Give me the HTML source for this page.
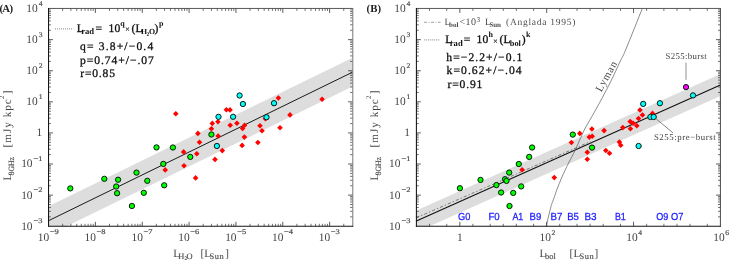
<!DOCTYPE html>
<html><head><meta charset="utf-8"><title>plot</title>
<style>html,body{margin:0;padding:0;background:#fff;overflow:hidden}svg{display:block}text{text-rendering:geometricPrecision}</style></head><body>
<svg width="729" height="261" viewBox="0 0 729 261">
<rect width="729" height="261" fill="#fff"/>
<g opacity="0.999">
<defs><clipPath id="ca"><rect x="48.55" y="8.55" width="303.95" height="217.65"/></clipPath>
<clipPath id="cb"><rect x="416.4" y="8.55" width="304" height="217.65"/></clipPath></defs>
<g clip-path="url(#ca)">
<polygon points="48.55,206.3 352.5,57.8 352.5,86.6 48.55,235.1" fill="#dddddd"/>
<line x1="48.55" y1="220.7" x2="352.5" y2="72.2" stroke="#1a1a1a" stroke-width="1"/>
</g>
<path d="M48.55 195.11L52.95 195.11M352.5 195.11L348.1 195.11M48.55 164.01L52.95 164.01M352.5 164.01L348.1 164.01M48.55 132.92L52.95 132.92M352.5 132.92L348.1 132.92M48.55 101.83L52.95 101.83M352.5 101.83L348.1 101.83M48.55 70.74L52.95 70.74M352.5 70.74L348.1 70.74M48.55 39.64L52.95 39.64M352.5 39.64L348.1 39.64M95.4 226.2L95.4 221.8M95.4 8.55L95.4 12.95M142.25 226.2L142.25 221.8M142.25 8.55L142.25 12.95M189.1 226.2L189.1 221.8M189.1 8.55L189.1 12.95M235.95 226.2L235.95 221.8M235.95 8.55L235.95 12.95M282.8 226.2L282.8 221.8M282.8 8.55L282.8 12.95M329.65 226.2L329.65 221.8M329.65 8.55L329.65 12.95" stroke="#333" stroke-width="0.8" fill="none"/>
<path d="M48.55 216.84L50.95 216.84M352.5 216.84L350.1 216.84M48.55 211.36L50.95 211.36M352.5 211.36L350.1 211.36M48.55 207.48L50.95 207.48M352.5 207.48L350.1 207.48M48.55 204.47L50.95 204.47M352.5 204.47L350.1 204.47M48.55 202.01L50.95 202.01M352.5 202.01L350.1 202.01M48.55 199.92L50.95 199.92M352.5 199.92L350.1 199.92M48.55 198.12L50.95 198.12M352.5 198.12L350.1 198.12M48.55 196.53L50.95 196.53M352.5 196.53L350.1 196.53M48.55 185.75L50.95 185.75M352.5 185.75L350.1 185.75M48.55 180.27L50.95 180.27M352.5 180.27L350.1 180.27M48.55 176.39L50.95 176.39M352.5 176.39L350.1 176.39M48.55 173.37L50.95 173.37M352.5 173.37L350.1 173.37M48.55 170.91L50.95 170.91M352.5 170.91L350.1 170.91M48.55 168.83L50.95 168.83M352.5 168.83L350.1 168.83M48.55 167.03L50.95 167.03M352.5 167.03L350.1 167.03M48.55 165.44L50.95 165.44M352.5 165.44L350.1 165.44M48.55 154.65L50.95 154.65M352.5 154.65L350.1 154.65M48.55 149.18L50.95 149.18M352.5 149.18L350.1 149.18M48.55 145.29L50.95 145.29M352.5 145.29L350.1 145.29M48.55 142.28L50.95 142.28M352.5 142.28L350.1 142.28M48.55 139.82L50.95 139.82M352.5 139.82L350.1 139.82M48.55 137.74L50.95 137.74M352.5 137.74L350.1 137.74M48.55 135.93L50.95 135.93M352.5 135.93L350.1 135.93M48.55 134.34L50.95 134.34M352.5 134.34L350.1 134.34M48.55 123.56L50.95 123.56M352.5 123.56L350.1 123.56M48.55 118.09L50.95 118.09M352.5 118.09L350.1 118.09M48.55 114.2L50.95 114.2M352.5 114.2L350.1 114.2M48.55 111.19L50.95 111.19M352.5 111.19L350.1 111.19M48.55 108.73L50.95 108.73M352.5 108.73L350.1 108.73M48.55 106.64L50.95 106.64M352.5 106.64L350.1 106.64M48.55 104.84L50.95 104.84M352.5 104.84L350.1 104.84M48.55 103.25L50.95 103.25M352.5 103.25L350.1 103.25M48.55 92.47L50.95 92.47M352.5 92.47L350.1 92.47M48.55 86.99L50.95 86.99M352.5 86.99L350.1 86.99M48.55 83.11L50.95 83.11M352.5 83.11L350.1 83.11M48.55 80.1L50.95 80.1M352.5 80.1L350.1 80.1M48.55 77.63L50.95 77.63M352.5 77.63L350.1 77.63M48.55 75.55L50.95 75.55M352.5 75.55L350.1 75.55M48.55 73.75L50.95 73.75M352.5 73.75L350.1 73.75M48.55 72.16L50.95 72.16M352.5 72.16L350.1 72.16M48.55 61.38L50.95 61.38M352.5 61.38L350.1 61.38M48.55 55.9L50.95 55.9M352.5 55.9L350.1 55.9M48.55 52.02L50.95 52.02M352.5 52.02L350.1 52.02M48.55 49L50.95 49M352.5 49L350.1 49M48.55 46.54L50.95 46.54M352.5 46.54L350.1 46.54M48.55 44.46L50.95 44.46M352.5 44.46L350.1 44.46M48.55 42.66L50.95 42.66M352.5 42.66L350.1 42.66M48.55 41.07L50.95 41.07M352.5 41.07L350.1 41.07M48.55 30.28L50.95 30.28M352.5 30.28L350.1 30.28M48.55 24.81L50.95 24.81M352.5 24.81L350.1 24.81M48.55 20.92L50.95 20.92M352.5 20.92L350.1 20.92M48.55 17.91L50.95 17.91M352.5 17.91L350.1 17.91M48.55 15.45L50.95 15.45M352.5 15.45L350.1 15.45M48.55 13.37L50.95 13.37M352.5 13.37L350.1 13.37M48.55 11.56L50.95 11.56M352.5 11.56L350.1 11.56M48.55 9.97L50.95 9.97M352.5 9.97L350.1 9.97M62.65 226.2L62.65 223.8M62.65 8.55L62.65 10.95M70.9 226.2L70.9 223.8M70.9 8.55L70.9 10.95M76.76 226.2L76.76 223.8M76.76 8.55L76.76 10.95M81.3 226.2L81.3 223.8M81.3 8.55L81.3 10.95M85.01 226.2L85.01 223.8M85.01 8.55L85.01 10.95M88.14 226.2L88.14 223.8M88.14 8.55L88.14 10.95M90.86 226.2L90.86 223.8M90.86 8.55L90.86 10.95M93.26 226.2L93.26 223.8M93.26 8.55L93.26 10.95M109.5 226.2L109.5 223.8M109.5 8.55L109.5 10.95M117.75 226.2L117.75 223.8M117.75 8.55L117.75 10.95M123.61 226.2L123.61 223.8M123.61 8.55L123.61 10.95M128.15 226.2L128.15 223.8M128.15 8.55L128.15 10.95M131.86 226.2L131.86 223.8M131.86 8.55L131.86 10.95M134.99 226.2L134.99 223.8M134.99 8.55L134.99 10.95M137.71 226.2L137.71 223.8M137.71 8.55L137.71 10.95M140.11 226.2L140.11 223.8M140.11 8.55L140.11 10.95M156.35 226.2L156.35 223.8M156.35 8.55L156.35 10.95M164.6 226.2L164.6 223.8M164.6 8.55L164.6 10.95M170.46 226.2L170.46 223.8M170.46 8.55L170.46 10.95M175 226.2L175 223.8M175 8.55L175 10.95M178.71 226.2L178.71 223.8M178.71 8.55L178.71 10.95M181.84 226.2L181.84 223.8M181.84 8.55L181.84 10.95M184.56 226.2L184.56 223.8M184.56 8.55L184.56 10.95M186.96 226.2L186.96 223.8M186.96 8.55L186.96 10.95M203.2 226.2L203.2 223.8M203.2 8.55L203.2 10.95M211.45 226.2L211.45 223.8M211.45 8.55L211.45 10.95M217.31 226.2L217.31 223.8M217.31 8.55L217.31 10.95M221.85 226.2L221.85 223.8M221.85 8.55L221.85 10.95M225.56 226.2L225.56 223.8M225.56 8.55L225.56 10.95M228.69 226.2L228.69 223.8M228.69 8.55L228.69 10.95M231.41 226.2L231.41 223.8M231.41 8.55L231.41 10.95M233.81 226.2L233.81 223.8M233.81 8.55L233.81 10.95M250.05 226.2L250.05 223.8M250.05 8.55L250.05 10.95M258.3 226.2L258.3 223.8M258.3 8.55L258.3 10.95M264.16 226.2L264.16 223.8M264.16 8.55L264.16 10.95M268.7 226.2L268.7 223.8M268.7 8.55L268.7 10.95M272.41 226.2L272.41 223.8M272.41 8.55L272.41 10.95M275.54 226.2L275.54 223.8M275.54 8.55L275.54 10.95M278.26 226.2L278.26 223.8M278.26 8.55L278.26 10.95M280.66 226.2L280.66 223.8M280.66 8.55L280.66 10.95M296.9 226.2L296.9 223.8M296.9 8.55L296.9 10.95M305.15 226.2L305.15 223.8M305.15 8.55L305.15 10.95M311.01 226.2L311.01 223.8M311.01 8.55L311.01 10.95M315.55 226.2L315.55 223.8M315.55 8.55L315.55 10.95M319.26 226.2L319.26 223.8M319.26 8.55L319.26 10.95M322.39 226.2L322.39 223.8M322.39 8.55L322.39 10.95M325.11 226.2L325.11 223.8M325.11 8.55L325.11 10.95M327.51 226.2L327.51 223.8M327.51 8.55L327.51 10.95M343.75 226.2L343.75 223.8M343.75 8.55L343.75 10.95" stroke="#444" stroke-width="0.75" fill="none"/>
<line x1="48.05" y1="8.45" x2="353.2" y2="8.45" stroke="#3a3a3a" stroke-width="0.85"/>
<line x1="352.8" y1="8.45" x2="352.8" y2="226.7" stroke="#666" stroke-width="0.9"/>
<line x1="48.55" y1="8.05" x2="48.55" y2="226.7" stroke="#111" stroke-width="1.05"/>
<line x1="48.05" y1="226.2" x2="353.2" y2="226.2" stroke="#151515" stroke-width="1.05"/>
<path d="M173 113.8L175.8 111L178.6 113.8L175.8 116.6Z" fill="#ff0000"/>
<path d="M275.6 98L278.4 95.2L281.2 98L278.4 100.8Z" fill="#ff0000"/>
<path d="M223.6 109.7L226.4 106.9L229.2 109.7L226.4 112.5Z" fill="#ff0000"/>
<path d="M227.2 109.9L230 107.1L232.8 109.9L230 112.7Z" fill="#ff0000"/>
<path d="M215.1 121.8L217.9 119L220.7 121.8L217.9 124.6Z" fill="#ff0000"/>
<path d="M209.5 123.4L212.3 120.6L215.1 123.4L212.3 126.2Z" fill="#ff0000"/>
<path d="M208.6 128.8L211.4 126L214.2 128.8L211.4 131.6Z" fill="#ff0000"/>
<path d="M227.4 125.3L230.2 122.5L233 125.3L230.2 128.1Z" fill="#ff0000"/>
<path d="M234.1 123.2L236.9 120.4L239.7 123.2L236.9 126Z" fill="#ff0000"/>
<path d="M241.8 125.3L244.6 122.5L247.4 125.3L244.6 128.1Z" fill="#ff0000"/>
<path d="M239.8 128.5L242.6 125.7L245.4 128.5L242.6 131.3Z" fill="#ff0000"/>
<path d="M257.2 125.8L260 123L262.8 125.8L260 128.6Z" fill="#ff0000"/>
<path d="M259.2 130.7L262 127.9L264.8 130.7L262 133.5Z" fill="#ff0000"/>
<path d="M262.6 118.7L265.4 115.9L268.2 118.7L265.4 121.5Z" fill="#ff0000"/>
<path d="M277.2 127.8L280 125L282.8 127.8L280 130.6Z" fill="#ff0000"/>
<path d="M195.1 133.4L197.9 130.6L200.7 133.4L197.9 136.2Z" fill="#ff0000"/>
<path d="M215.3 136L218.1 133.2L220.9 136L218.1 138.8Z" fill="#ff0000"/>
<path d="M196.7 142.3L199.5 139.5L202.3 142.3L199.5 145.1Z" fill="#ff0000"/>
<path d="M180.8 151.9L183.6 149.1L186.4 151.9L183.6 154.7Z" fill="#ff0000"/>
<path d="M194 153.7L196.8 150.9L199.6 153.7L196.8 156.5Z" fill="#ff0000"/>
<path d="M219.5 150.6L222.3 147.8L225.1 150.6L222.3 153.4Z" fill="#ff0000"/>
<path d="M212.2 159.4L215 156.6L217.8 159.4L215 162.2Z" fill="#ff0000"/>
<path d="M181.2 165.7L184 162.9L186.8 165.7L184 168.5Z" fill="#ff0000"/>
<path d="M162.4 169.9L165.2 167.1L168 169.9L165.2 172.7Z" fill="#ff0000"/>
<path d="M192.8 177.9L195.6 175.1L198.4 177.9L195.6 180.7Z" fill="#ff0000"/>
<path d="M241.6 137.1L244.4 134.3L247.2 137.1L244.4 139.9Z" fill="#ff0000"/>
<path d="M239.3 145.4L242.1 142.6L244.9 145.4L242.1 148.2Z" fill="#ff0000"/>
<path d="M255.1 142.5L257.9 139.7L260.7 142.5L257.9 145.3Z" fill="#ff0000"/>
<path d="M319.3 99.2L322.1 96.4L324.9 99.2L322.1 102Z" fill="#ff0000"/>
<path d="M287.2 114.9L290 112.1L292.8 114.9L290 117.7Z" fill="#ff0000"/>
<circle cx="70.3" cy="188.4" r="2.65" fill="#00ff00" stroke="#0c180c" stroke-width="1"/>
<circle cx="104.3" cy="178.8" r="2.65" fill="#00ff00" stroke="#0c180c" stroke-width="1"/>
<circle cx="118.1" cy="179.7" r="2.65" fill="#00ff00" stroke="#0c180c" stroke-width="1"/>
<circle cx="116.2" cy="186.5" r="2.65" fill="#00ff00" stroke="#0c180c" stroke-width="1"/>
<circle cx="117.1" cy="193.2" r="2.65" fill="#00ff00" stroke="#0c180c" stroke-width="1"/>
<circle cx="136.5" cy="172.6" r="2.65" fill="#00ff00" stroke="#0c180c" stroke-width="1"/>
<circle cx="131.9" cy="206" r="2.65" fill="#00ff00" stroke="#0c180c" stroke-width="1"/>
<circle cx="143.8" cy="192.8" r="2.65" fill="#00ff00" stroke="#0c180c" stroke-width="1"/>
<circle cx="147.3" cy="180.8" r="2.65" fill="#00ff00" stroke="#0c180c" stroke-width="1"/>
<circle cx="156.5" cy="147.4" r="2.65" fill="#00ff00" stroke="#0c180c" stroke-width="1"/>
<circle cx="172.9" cy="147.5" r="2.65" fill="#00ff00" stroke="#0c180c" stroke-width="1"/>
<circle cx="163.3" cy="163.9" r="2.65" fill="#00ff00" stroke="#0c180c" stroke-width="1"/>
<circle cx="164.2" cy="185.3" r="2.65" fill="#00ff00" stroke="#0c180c" stroke-width="1"/>
<circle cx="190.3" cy="156.9" r="2.65" fill="#00ff00" stroke="#0c180c" stroke-width="1"/>
<circle cx="211.4" cy="134.5" r="2.65" fill="#00ff00" stroke="#0c180c" stroke-width="1"/>
<circle cx="239.6" cy="95.5" r="2.65" fill="#00ffff" stroke="#0c180c" stroke-width="1"/>
<circle cx="242.9" cy="104" r="2.65" fill="#00ffff" stroke="#0c180c" stroke-width="1"/>
<circle cx="274" cy="103.2" r="2.65" fill="#00ffff" stroke="#0c180c" stroke-width="1"/>
<circle cx="218.5" cy="116.8" r="2.65" fill="#00ffff" stroke="#0c180c" stroke-width="1"/>
<circle cx="233.1" cy="116.8" r="2.65" fill="#00ffff" stroke="#0c180c" stroke-width="1"/>
<circle cx="266.5" cy="117.2" r="2.65" fill="#00ffff" stroke="#0c180c" stroke-width="1"/>
<circle cx="216.9" cy="146" r="2.65" fill="#00ffff" stroke="#0c180c" stroke-width="1"/>
<text x="33.55" y="223.35" font-family="Liberation Serif, serif" font-size="7.2" fill="#444" stroke="#555" stroke-width="0.2" textLength="9" lengthAdjust="spacingAndGlyphs">−3</text>
<text x="21.15" y="229.65" font-family="Liberation Serif, serif" font-size="11.5" fill="#444" textLength="11.4" lengthAdjust="spacingAndGlyphs">10</text>
<text x="33.55" y="192.26" font-family="Liberation Serif, serif" font-size="7.2" fill="#444" stroke="#555" stroke-width="0.2" textLength="9" lengthAdjust="spacingAndGlyphs">−2</text>
<text x="21.15" y="198.56" font-family="Liberation Serif, serif" font-size="11.5" fill="#444" textLength="11.4" lengthAdjust="spacingAndGlyphs">10</text>
<text x="33.55" y="161.16" font-family="Liberation Serif, serif" font-size="7.2" fill="#444" stroke="#555" stroke-width="0.2" textLength="9" lengthAdjust="spacingAndGlyphs">−1</text>
<text x="21.15" y="167.46" font-family="Liberation Serif, serif" font-size="11.5" fill="#444" textLength="11.4" lengthAdjust="spacingAndGlyphs">10</text>
<text x="42.15" y="136.37" font-family="Liberation Serif, serif" font-size="11.5" fill="#444" text-anchor="end">1</text>
<text x="38.75" y="98.98" font-family="Liberation Serif, serif" font-size="7.2" fill="#444" stroke="#555" stroke-width="0.2" textLength="3.8" lengthAdjust="spacingAndGlyphs">1</text>
<text x="26.35" y="105.28" font-family="Liberation Serif, serif" font-size="11.5" fill="#444" textLength="11.4" lengthAdjust="spacingAndGlyphs">10</text>
<text x="38.75" y="67.89" font-family="Liberation Serif, serif" font-size="7.2" fill="#444" stroke="#555" stroke-width="0.2" textLength="3.8" lengthAdjust="spacingAndGlyphs">2</text>
<text x="26.35" y="74.19" font-family="Liberation Serif, serif" font-size="11.5" fill="#444" textLength="11.4" lengthAdjust="spacingAndGlyphs">10</text>
<text x="38.75" y="36.79" font-family="Liberation Serif, serif" font-size="7.2" fill="#444" stroke="#555" stroke-width="0.2" textLength="3.8" lengthAdjust="spacingAndGlyphs">3</text>
<text x="26.35" y="43.09" font-family="Liberation Serif, serif" font-size="11.5" fill="#444" textLength="11.4" lengthAdjust="spacingAndGlyphs">10</text>
<text x="38.75" y="5.7" font-family="Liberation Serif, serif" font-size="7.2" fill="#444" stroke="#555" stroke-width="0.2" textLength="3.8" lengthAdjust="spacingAndGlyphs">4</text>
<text x="26.35" y="12" font-family="Liberation Serif, serif" font-size="11.5" fill="#444" textLength="11.4" lengthAdjust="spacingAndGlyphs">10</text>
<text x="37.75" y="240.5" font-family="Liberation Serif, serif" font-size="11.5" fill="#444" textLength="11.4" lengthAdjust="spacingAndGlyphs">10</text>
<text x="49.75" y="234.4" font-family="Liberation Serif, serif" font-size="7.2" fill="#444" stroke="#555" stroke-width="0.2" textLength="9" lengthAdjust="spacingAndGlyphs">−9</text>
<text x="84.6" y="240.5" font-family="Liberation Serif, serif" font-size="11.5" fill="#444" textLength="11.4" lengthAdjust="spacingAndGlyphs">10</text>
<text x="96.6" y="234.4" font-family="Liberation Serif, serif" font-size="7.2" fill="#444" stroke="#555" stroke-width="0.2" textLength="9" lengthAdjust="spacingAndGlyphs">−8</text>
<text x="131.45" y="240.5" font-family="Liberation Serif, serif" font-size="11.5" fill="#444" textLength="11.4" lengthAdjust="spacingAndGlyphs">10</text>
<text x="143.45" y="234.4" font-family="Liberation Serif, serif" font-size="7.2" fill="#444" stroke="#555" stroke-width="0.2" textLength="9" lengthAdjust="spacingAndGlyphs">−7</text>
<text x="178.3" y="240.5" font-family="Liberation Serif, serif" font-size="11.5" fill="#444" textLength="11.4" lengthAdjust="spacingAndGlyphs">10</text>
<text x="190.3" y="234.4" font-family="Liberation Serif, serif" font-size="7.2" fill="#444" stroke="#555" stroke-width="0.2" textLength="9" lengthAdjust="spacingAndGlyphs">−6</text>
<text x="225.15" y="240.5" font-family="Liberation Serif, serif" font-size="11.5" fill="#444" textLength="11.4" lengthAdjust="spacingAndGlyphs">10</text>
<text x="237.15" y="234.4" font-family="Liberation Serif, serif" font-size="7.2" fill="#444" stroke="#555" stroke-width="0.2" textLength="9" lengthAdjust="spacingAndGlyphs">−5</text>
<text x="272" y="240.5" font-family="Liberation Serif, serif" font-size="11.5" fill="#444" textLength="11.4" lengthAdjust="spacingAndGlyphs">10</text>
<text x="284" y="234.4" font-family="Liberation Serif, serif" font-size="7.2" fill="#444" stroke="#555" stroke-width="0.2" textLength="9" lengthAdjust="spacingAndGlyphs">−4</text>
<text x="318.85" y="240.5" font-family="Liberation Serif, serif" font-size="11.5" fill="#444" textLength="11.4" lengthAdjust="spacingAndGlyphs">10</text>
<text x="330.85" y="234.4" font-family="Liberation Serif, serif" font-size="7.2" fill="#444" stroke="#555" stroke-width="0.2" textLength="9" lengthAdjust="spacingAndGlyphs">−3</text>
<text x="-0.6" y="12" font-family="Liberation Serif, serif" font-size="10.8" font-weight="bold" fill="#222" textLength="13.6">(A)</text>
<g transform="translate(10.9 180.4) rotate(-90)" fill="#444" font-family="Liberation Serif, serif">
<text x="0" y="0" font-size="11.2">L</text>
<text x="5" y="2.6" font-size="8" textLength="18.4" fill="#4a4a4a" stroke="#4a4a4a" stroke-width="0.15" lengthAdjust="spacingAndGlyphs">8GHz</text>
<text x="33" y="0" font-size="11.2" textLength="48.2">[mJy kpc</text>
<text x="81.4" y="-7.0" font-size="7">2</text>
<text x="86.2" y="0" font-size="11.2">]</text>
</g>
<g fill="#444" font-family="Liberation Serif, serif">
<text x="173.3" y="256.9" font-size="11.2">L</text>
<text x="178.3" y="259.3" font-size="8.4" fill="#4a4a4a" stroke="#4a4a4a" stroke-width="0.15">H</text>
<text x="184.4" y="260.3" font-size="5.2" fill="#4a4a4a" stroke="#4a4a4a" stroke-width="0.15">2</text>
<text x="186.6" y="259.3" font-size="8.4" fill="#4a4a4a" stroke="#4a4a4a" stroke-width="0.15">O</text>
<text x="200.6" y="256.9" font-size="11.2" textLength="10.6">[L</text>
<text x="209.6" y="259.3" font-size="8.4" fill="#4a4a4a" stroke="#4a4a4a" stroke-width="0.15" textLength="14.2">Sun</text>
<text x="225.2" y="256.9" font-size="11.2">]</text>
</g>
<line x1="55" y1="28.9" x2="73.3" y2="28.9" stroke="#777" stroke-width="0.9" stroke-dasharray="1 1"/>
<text x="76.8" y="31.9" font-family="Liberation Serif, serif" fill="#111" stroke="#111" stroke-width="0.3" font-size="11.6" textLength="5.6">L</text>
<text x="81.2" y="34.4" font-family="Liberation Serif, serif" font-weight="bold" fill="#111" font-size="8.6">rad</text>
<text x="95.4" y="31.9" font-family="Liberation Serif, serif" fill="#111" stroke="#111" stroke-width="0.3" font-size="11.6" textLength="6.2">=</text>
<text x="108.4" y="31.9" font-family="Liberation Serif, serif" fill="#111" stroke="#111" stroke-width="0.3" font-size="11.6" textLength="11.8">10</text>
<text x="120.3" y="26.3" font-family="Liberation Serif, serif" font-weight="bold" fill="#111" font-size="8.0">q</text>
<text x="124.9" y="32.4" font-family="Liberation Serif, serif" font-weight="bold" fill="#111" font-size="8.6">×</text>
<text x="131.6" y="31.9" font-family="Liberation Serif, serif" fill="#111" stroke="#111" stroke-width="0.3" font-size="11.6" textLength="4.2">(</text>
<text x="135.6" y="31.9" font-family="Liberation Serif, serif" fill="#111" stroke="#111" stroke-width="0.3" font-size="11.6" textLength="5.6">L</text>
<text x="141" y="34.4" font-family="Liberation Serif, serif" font-weight="bold" fill="#111" font-size="7.8">H</text>
<text x="146.6" y="35.8" font-family="Liberation Serif, serif" font-weight="bold" fill="#111" font-size="5.6">2</text>
<text x="149" y="34.4" font-family="Liberation Serif, serif" font-weight="bold" fill="#111" font-size="7.8">O</text>
<text x="154.6" y="31.9" font-family="Liberation Serif, serif" fill="#111" stroke="#111" stroke-width="0.3" font-size="11.6" textLength="4.2">)</text>
<text x="159" y="26.3" font-family="Liberation Serif, serif" font-weight="bold" fill="#111" font-size="8.0">p</text>
<text x="80" y="49.9" font-family="Liberation Serif, serif" fill="#111" stroke="#111" stroke-width="0.3" font-size="11.6" textLength="73.2">q= 3.8+/−0.4</text>
<text x="80" y="63.6" font-family="Liberation Serif, serif" fill="#111" stroke="#111" stroke-width="0.3" font-size="11.6" textLength="73.8">p=0.74+/−.07</text>
<text x="80.2" y="76.6" font-family="Liberation Serif, serif" fill="#111" stroke="#111" stroke-width="0.3" font-size="11.6" textLength="34.8">r=0.85</text>
<g clip-path="url(#cb)">
<polygon points="416.4,210.6 720.4,74.1 720.4,96 416.4,232.2" fill="#dddddd"/>
<line x1="416.4" y1="217.8" x2="590.3" y2="141.6" stroke="#555" stroke-width="0.75" stroke-dasharray="3.2 2 1.4 2"/>
<line x1="416.4" y1="221.1" x2="720.4" y2="84.9" stroke="#111" stroke-width="1.1"/>
<path d="M546.2 226.2C546.98 222.97 549.72 211.18 550.9 206.8C552.08 202.42 551.92 203.77 553.3 199.9C554.68 196.03 556.93 189.2 559.2 183.6C561.47 178 564.18 171.97 566.9 166.3C569.62 160.63 572.62 155.63 575.5 149.6C578.38 143.57 580.83 136.73 584.2 130.1C587.57 123.47 591.48 117.48 595.7 109.8C599.92 102.12 605.42 92.08 609.5 84C613.58 75.92 617.52 66.97 620.2 61.3C622.88 55.63 621.92 58.8 625.6 50C629.28 41.2 639.52 15.42 642.3 8.5" fill="none" stroke="#5a5a5a" stroke-width="0.7"/>
</g>
<path d="M416.4 195.11L420.8 195.11M720.4 195.11L716 195.11M416.4 164.01L420.8 164.01M720.4 164.01L716 164.01M416.4 132.92L420.8 132.92M720.4 132.92L716 132.92M416.4 101.83L420.8 101.83M720.4 101.83L716 101.83M416.4 70.74L420.8 70.74M720.4 70.74L716 70.74M416.4 39.64L420.8 39.64M720.4 39.64L716 39.64M459.83 226.2L459.83 221.8M459.83 8.55L459.83 12.95M546.69 226.2L546.69 221.8M546.69 8.55L546.69 12.95M633.54 226.2L633.54 221.8M633.54 8.55L633.54 12.95" stroke="#333" stroke-width="0.8" fill="none"/>
<path d="M416.4 216.84L418.8 216.84M720.4 216.84L718 216.84M416.4 211.36L418.8 211.36M720.4 211.36L718 211.36M416.4 207.48L418.8 207.48M720.4 207.48L718 207.48M416.4 204.47L418.8 204.47M720.4 204.47L718 204.47M416.4 202.01L418.8 202.01M720.4 202.01L718 202.01M416.4 199.92L418.8 199.92M720.4 199.92L718 199.92M416.4 198.12L418.8 198.12M720.4 198.12L718 198.12M416.4 196.53L418.8 196.53M720.4 196.53L718 196.53M416.4 185.75L418.8 185.75M720.4 185.75L718 185.75M416.4 180.27L418.8 180.27M720.4 180.27L718 180.27M416.4 176.39L418.8 176.39M720.4 176.39L718 176.39M416.4 173.37L418.8 173.37M720.4 173.37L718 173.37M416.4 170.91L418.8 170.91M720.4 170.91L718 170.91M416.4 168.83L418.8 168.83M720.4 168.83L718 168.83M416.4 167.03L418.8 167.03M720.4 167.03L718 167.03M416.4 165.44L418.8 165.44M720.4 165.44L718 165.44M416.4 154.65L418.8 154.65M720.4 154.65L718 154.65M416.4 149.18L418.8 149.18M720.4 149.18L718 149.18M416.4 145.29L418.8 145.29M720.4 145.29L718 145.29M416.4 142.28L418.8 142.28M720.4 142.28L718 142.28M416.4 139.82L418.8 139.82M720.4 139.82L718 139.82M416.4 137.74L418.8 137.74M720.4 137.74L718 137.74M416.4 135.93L418.8 135.93M720.4 135.93L718 135.93M416.4 134.34L418.8 134.34M720.4 134.34L718 134.34M416.4 123.56L418.8 123.56M720.4 123.56L718 123.56M416.4 118.09L418.8 118.09M720.4 118.09L718 118.09M416.4 114.2L418.8 114.2M720.4 114.2L718 114.2M416.4 111.19L418.8 111.19M720.4 111.19L718 111.19M416.4 108.73L418.8 108.73M720.4 108.73L718 108.73M416.4 106.64L418.8 106.64M720.4 106.64L718 106.64M416.4 104.84L418.8 104.84M720.4 104.84L718 104.84M416.4 103.25L418.8 103.25M720.4 103.25L718 103.25M416.4 92.47L418.8 92.47M720.4 92.47L718 92.47M416.4 86.99L418.8 86.99M720.4 86.99L718 86.99M416.4 83.11L418.8 83.11M720.4 83.11L718 83.11M416.4 80.1L418.8 80.1M720.4 80.1L718 80.1M416.4 77.63L418.8 77.63M720.4 77.63L718 77.63M416.4 75.55L418.8 75.55M720.4 75.55L718 75.55M416.4 73.75L418.8 73.75M720.4 73.75L718 73.75M416.4 72.16L418.8 72.16M720.4 72.16L718 72.16M416.4 61.38L418.8 61.38M720.4 61.38L718 61.38M416.4 55.9L418.8 55.9M720.4 55.9L718 55.9M416.4 52.02L418.8 52.02M720.4 52.02L718 52.02M416.4 49L418.8 49M720.4 49L718 49M416.4 46.54L418.8 46.54M720.4 46.54L718 46.54M416.4 44.46L418.8 44.46M720.4 44.46L718 44.46M416.4 42.66L418.8 42.66M720.4 42.66L718 42.66M416.4 41.07L418.8 41.07M720.4 41.07L718 41.07M416.4 30.28L418.8 30.28M720.4 30.28L718 30.28M416.4 24.81L418.8 24.81M720.4 24.81L718 24.81M416.4 20.92L418.8 20.92M720.4 20.92L718 20.92M416.4 17.91L418.8 17.91M720.4 17.91L718 17.91M416.4 15.45L418.8 15.45M720.4 15.45L718 15.45M416.4 13.37L418.8 13.37M720.4 13.37L718 13.37M416.4 11.56L418.8 11.56M720.4 11.56L718 11.56M416.4 9.97L418.8 9.97M720.4 9.97L718 9.97M429.47 226.2L429.47 223.8M429.47 8.55L429.47 10.95M446.76 226.2L446.76 223.8M446.76 8.55L446.76 10.95M472.9 226.2L472.9 223.8M472.9 8.55L472.9 10.95M490.18 226.2L490.18 223.8M490.18 8.55L490.18 10.95M503.26 226.2L503.26 223.8M503.26 8.55L503.26 10.95M516.33 226.2L516.33 223.8M516.33 8.55L516.33 10.95M533.61 226.2L533.61 223.8M533.61 8.55L533.61 10.95M559.76 226.2L559.76 223.8M559.76 8.55L559.76 10.95M577.04 226.2L577.04 223.8M577.04 8.55L577.04 10.95M590.11 226.2L590.11 223.8M590.11 8.55L590.11 10.95M603.19 226.2L603.19 223.8M603.19 8.55L603.19 10.95M620.47 226.2L620.47 223.8M620.47 8.55L620.47 10.95M646.62 226.2L646.62 223.8M646.62 8.55L646.62 10.95M663.9 226.2L663.9 223.8M663.9 8.55L663.9 10.95M676.97 226.2L676.97 223.8M676.97 8.55L676.97 10.95M690.04 226.2L690.04 223.8M690.04 8.55L690.04 10.95M707.33 226.2L707.33 223.8M707.33 8.55L707.33 10.95" stroke="#444" stroke-width="0.75" fill="none"/>
<line x1="415.9" y1="8.45" x2="720.8" y2="8.45" stroke="#3a3a3a" stroke-width="0.85"/>
<line x1="720.4" y1="8.45" x2="720.4" y2="226.7" stroke="#333" stroke-width="0.9"/>
<line x1="416.4" y1="8.05" x2="416.4" y2="226.7" stroke="#111" stroke-width="1.05"/>
<line x1="415.9" y1="226.2" x2="720.8" y2="226.2" stroke="#151515" stroke-width="1.05"/>
<path d="M577 133.4L579.8 130.6L582.6 133.4L579.8 136.2Z" fill="#ff0000"/>
<path d="M568.6 142.5L571.4 139.7L574.2 142.5L571.4 145.3Z" fill="#ff0000"/>
<path d="M586.5 137.1L589.3 134.3L592.1 137.1L589.3 139.9Z" fill="#ff0000"/>
<path d="M589.4 136.2L592.2 133.4L595 136.2L592.2 139Z" fill="#ff0000"/>
<path d="M584.5 152.2L587.3 149.4L590.1 152.2L587.3 155Z" fill="#ff0000"/>
<path d="M584.5 159.3L587.3 156.5L590.1 159.3L587.3 162.1Z" fill="#ff0000"/>
<path d="M519.3 169.8L522.1 167L524.9 169.8L522.1 172.6Z" fill="#ff0000"/>
<path d="M551.5 177.6L554.3 174.8L557.1 177.6L554.3 180.4Z" fill="#ff0000"/>
<path d="M603 150.5L605.8 147.7L608.6 150.5L605.8 153.3Z" fill="#ff0000"/>
<path d="M606.7 153.3L609.5 150.5L612.3 153.3L609.5 156.1Z" fill="#ff0000"/>
<path d="M616.6 142.1L619.4 139.3L622.2 142.1L619.4 144.9Z" fill="#ff0000"/>
<path d="M617.9 145.3L620.7 142.5L623.5 145.3L620.7 148.1Z" fill="#ff0000"/>
<path d="M601.3 130.6L604.1 127.8L606.9 130.6L604.1 133.4Z" fill="#ff0000"/>
<path d="M589.1 129L591.9 126.2L594.7 129L591.9 131.8Z" fill="#ff0000"/>
<path d="M627.6 128.8L630.4 126L633.2 128.8L630.4 131.6Z" fill="#ff0000"/>
<path d="M620 127.6L622.8 124.8L625.6 127.6L622.8 130.4Z" fill="#ff0000"/>
<path d="M634 125.7L636.8 122.9L639.6 125.7L636.8 128.5Z" fill="#ff0000"/>
<path d="M630.4 123.2L633.2 120.4L636 123.2L633.2 126Z" fill="#ff0000"/>
<path d="M627.4 121.6L630.2 118.8L633 121.6L630.2 124.4Z" fill="#ff0000"/>
<path d="M635.7 118.5L638.5 115.7L641.3 118.5L638.5 121.3Z" fill="#ff0000"/>
<path d="M639.7 115L642.5 112.2L645.3 115L642.5 117.8Z" fill="#ff0000"/>
<path d="M649.7 113.4L652.5 110.6L655.3 113.4L652.5 116.2Z" fill="#ff0000"/>
<path d="M637.2 110L640 107.2L642.8 110L640 112.8Z" fill="#ff0000"/>
<circle cx="459.9" cy="188.2" r="2.65" fill="#00ff00" stroke="#0c180c" stroke-width="1"/>
<circle cx="480.5" cy="179.9" r="2.65" fill="#00ff00" stroke="#0c180c" stroke-width="1"/>
<circle cx="496.4" cy="185.1" r="2.65" fill="#00ff00" stroke="#0c180c" stroke-width="1"/>
<circle cx="505" cy="179.2" r="2.65" fill="#00ff00" stroke="#0c180c" stroke-width="1"/>
<circle cx="506.5" cy="180.9" r="2.65" fill="#00ff00" stroke="#0c180c" stroke-width="1"/>
<circle cx="501.1" cy="192.5" r="2.65" fill="#00ff00" stroke="#0c180c" stroke-width="1"/>
<circle cx="513.2" cy="192.9" r="2.65" fill="#00ff00" stroke="#0c180c" stroke-width="1"/>
<circle cx="521.2" cy="186.4" r="2.65" fill="#00ff00" stroke="#0c180c" stroke-width="1"/>
<circle cx="509.5" cy="206" r="2.65" fill="#00ff00" stroke="#0c180c" stroke-width="1"/>
<circle cx="509.2" cy="172.6" r="2.65" fill="#00ff00" stroke="#0c180c" stroke-width="1"/>
<circle cx="518.8" cy="164" r="2.65" fill="#00ff00" stroke="#0c180c" stroke-width="1"/>
<circle cx="529.2" cy="156.9" r="2.65" fill="#00ff00" stroke="#0c180c" stroke-width="1"/>
<circle cx="532.1" cy="147.5" r="2.65" fill="#00ff00" stroke="#0c180c" stroke-width="1"/>
<circle cx="572.8" cy="134.6" r="2.65" fill="#00ff00" stroke="#0c180c" stroke-width="1"/>
<circle cx="592" cy="147.6" r="2.65" fill="#00ff00" stroke="#0c180c" stroke-width="1"/>
<circle cx="643.2" cy="103.9" r="2.65" fill="#00ffff" stroke="#0c180c" stroke-width="1"/>
<circle cx="659.9" cy="103.2" r="2.65" fill="#00ffff" stroke="#0c180c" stroke-width="1"/>
<circle cx="693" cy="95.4" r="2.65" fill="#00ffff" stroke="#0c180c" stroke-width="1"/>
<circle cx="650.4" cy="117" r="2.65" fill="#00ffff" stroke="#0c180c" stroke-width="1"/>
<circle cx="653.7" cy="117" r="2.65" fill="#00ffff" stroke="#0c180c" stroke-width="1"/>
<circle cx="638.6" cy="146" r="2.65" fill="#00ffff" stroke="#0c180c" stroke-width="1"/>
<circle cx="686" cy="87.1" r="2.65" fill="#ff00ff" stroke="#0c180c" stroke-width="1"/>
<line x1="686" y1="62.6" x2="686" y2="79.8" stroke="#777" stroke-width="0.8"/>
<line x1="656.3" y1="119" x2="673" y2="132.9" stroke="#666" stroke-width="0.8"/>
<text x="401.4" y="223.35" font-family="Liberation Serif, serif" font-size="7.2" fill="#444" stroke="#555" stroke-width="0.2" textLength="9" lengthAdjust="spacingAndGlyphs">−3</text>
<text x="389" y="229.65" font-family="Liberation Serif, serif" font-size="11.5" fill="#444" textLength="11.4" lengthAdjust="spacingAndGlyphs">10</text>
<text x="401.4" y="192.26" font-family="Liberation Serif, serif" font-size="7.2" fill="#444" stroke="#555" stroke-width="0.2" textLength="9" lengthAdjust="spacingAndGlyphs">−2</text>
<text x="389" y="198.56" font-family="Liberation Serif, serif" font-size="11.5" fill="#444" textLength="11.4" lengthAdjust="spacingAndGlyphs">10</text>
<text x="401.4" y="161.16" font-family="Liberation Serif, serif" font-size="7.2" fill="#444" stroke="#555" stroke-width="0.2" textLength="9" lengthAdjust="spacingAndGlyphs">−1</text>
<text x="389" y="167.46" font-family="Liberation Serif, serif" font-size="11.5" fill="#444" textLength="11.4" lengthAdjust="spacingAndGlyphs">10</text>
<text x="410" y="136.37" font-family="Liberation Serif, serif" font-size="11.5" fill="#444" text-anchor="end">1</text>
<text x="406.6" y="98.98" font-family="Liberation Serif, serif" font-size="7.2" fill="#444" stroke="#555" stroke-width="0.2" textLength="3.8" lengthAdjust="spacingAndGlyphs">1</text>
<text x="394.2" y="105.28" font-family="Liberation Serif, serif" font-size="11.5" fill="#444" textLength="11.4" lengthAdjust="spacingAndGlyphs">10</text>
<text x="406.6" y="67.89" font-family="Liberation Serif, serif" font-size="7.2" fill="#444" stroke="#555" stroke-width="0.2" textLength="3.8" lengthAdjust="spacingAndGlyphs">2</text>
<text x="394.2" y="74.19" font-family="Liberation Serif, serif" font-size="11.5" fill="#444" textLength="11.4" lengthAdjust="spacingAndGlyphs">10</text>
<text x="406.6" y="36.79" font-family="Liberation Serif, serif" font-size="7.2" fill="#444" stroke="#555" stroke-width="0.2" textLength="3.8" lengthAdjust="spacingAndGlyphs">3</text>
<text x="394.2" y="43.09" font-family="Liberation Serif, serif" font-size="11.5" fill="#444" textLength="11.4" lengthAdjust="spacingAndGlyphs">10</text>
<text x="406.6" y="5.7" font-family="Liberation Serif, serif" font-size="7.2" fill="#444" stroke="#555" stroke-width="0.2" textLength="3.8" lengthAdjust="spacingAndGlyphs">4</text>
<text x="394.2" y="12" font-family="Liberation Serif, serif" font-size="11.5" fill="#444" textLength="11.4" lengthAdjust="spacingAndGlyphs">10</text>
<text x="459.83" y="240.7" font-family="Liberation Serif, serif" font-size="11.5" fill="#444" text-anchor="middle">1</text>
<text x="539.49" y="240.7" font-family="Liberation Serif, serif" font-size="11.5" fill="#444" textLength="11.4" lengthAdjust="spacingAndGlyphs">10</text>
<text x="551.49" y="234.6" font-family="Liberation Serif, serif" font-size="7.2" fill="#444" stroke="#555" stroke-width="0.2" textLength="3.8" lengthAdjust="spacingAndGlyphs">2</text>
<text x="626.34" y="240.7" font-family="Liberation Serif, serif" font-size="11.5" fill="#444" textLength="11.4" lengthAdjust="spacingAndGlyphs">10</text>
<text x="638.34" y="234.6" font-family="Liberation Serif, serif" font-size="7.2" fill="#444" stroke="#555" stroke-width="0.2" textLength="3.8" lengthAdjust="spacingAndGlyphs">4</text>
<text x="713.2" y="240.7" font-family="Liberation Serif, serif" font-size="11.5" fill="#444" textLength="11.4" lengthAdjust="spacingAndGlyphs">10</text>
<text x="725.2" y="234.6" font-family="Liberation Serif, serif" font-size="7.2" fill="#444" stroke="#555" stroke-width="0.2" textLength="3.8" lengthAdjust="spacingAndGlyphs">6</text>
<text x="366.6" y="12" font-family="Liberation Serif, serif" font-size="10.8" font-weight="bold" fill="#222" textLength="14.6">(B)</text>
<g transform="translate(377.9 180.4) rotate(-90)" fill="#444" font-family="Liberation Serif, serif">
<text x="0" y="0" font-size="11.2">L</text>
<text x="5" y="2.6" font-size="8" textLength="18.4" fill="#4a4a4a" stroke="#4a4a4a" stroke-width="0.15" lengthAdjust="spacingAndGlyphs">8GHz</text>
<text x="33" y="0" font-size="11.2" textLength="48.2">[mJy kpc</text>
<text x="81.4" y="-7.0" font-size="7">2</text>
<text x="86.2" y="0" font-size="11.2">]</text>
</g>
<g fill="#444" font-family="Liberation Serif, serif">
<text x="539.6" y="256.8" font-size="11.2">L</text>
<text x="545.0" y="259.0" font-size="8.4" fill="#4a4a4a" stroke="#4a4a4a" stroke-width="0.15" textLength="10.8">bol</text>
<text x="569.6" y="256.8" font-size="11.2" textLength="10.8">[L</text>
<text x="579.4" y="259.0" font-size="8.4" fill="#4a4a4a" stroke="#4a4a4a" stroke-width="0.15" textLength="14.2">Sun</text>
<text x="594.6" y="256.8" font-size="11.2">]</text>
</g>
<text x="458.1" y="220.2" font-family="Liberation Sans, sans-serif" font-size="10.2" fill="#1818ff" stroke="#1818ff" stroke-width="0.25" textLength="12.4" lengthAdjust="spacingAndGlyphs">G0</text>
<text x="488.4" y="220.2" font-family="Liberation Sans, sans-serif" font-size="10.2" fill="#1818ff" stroke="#1818ff" stroke-width="0.25" textLength="11.3" lengthAdjust="spacingAndGlyphs">F0</text>
<text x="512.4" y="220.2" font-family="Liberation Sans, sans-serif" font-size="10.2" fill="#1818ff" stroke="#1818ff" stroke-width="0.25" textLength="10.9" lengthAdjust="spacingAndGlyphs">A1</text>
<text x="529.5" y="220.2" font-family="Liberation Sans, sans-serif" font-size="10.2" fill="#1818ff" stroke="#1818ff" stroke-width="0.25" textLength="11.7" lengthAdjust="spacingAndGlyphs">B9</text>
<text x="550.5" y="220.2" font-family="Liberation Sans, sans-serif" font-size="10.2" fill="#1818ff" stroke="#1818ff" stroke-width="0.25" textLength="11.9" lengthAdjust="spacingAndGlyphs">B7</text>
<text x="567.2" y="220.2" font-family="Liberation Sans, sans-serif" font-size="10.2" fill="#1818ff" stroke="#1818ff" stroke-width="0.25" textLength="11.7" lengthAdjust="spacingAndGlyphs">B5</text>
<text x="584.4" y="220.2" font-family="Liberation Sans, sans-serif" font-size="10.2" fill="#1818ff" stroke="#1818ff" stroke-width="0.25" textLength="12.2" lengthAdjust="spacingAndGlyphs">B3</text>
<text x="614.9" y="220.2" font-family="Liberation Sans, sans-serif" font-size="10.2" fill="#1818ff" stroke="#1818ff" stroke-width="0.25" textLength="10.9" lengthAdjust="spacingAndGlyphs">B1</text>
<text x="656.2" y="220.2" font-family="Liberation Sans, sans-serif" font-size="10.2" fill="#1818ff" stroke="#1818ff" stroke-width="0.25" textLength="12.1" lengthAdjust="spacingAndGlyphs">O9</text>
<text x="671.1" y="220.2" font-family="Liberation Sans, sans-serif" font-size="10.2" fill="#1818ff" stroke="#1818ff" stroke-width="0.25" textLength="12.4" lengthAdjust="spacingAndGlyphs">O7</text>
<line x1="424" y1="22.3" x2="440.5" y2="22.3" stroke="#777" stroke-width="0.7" stroke-dasharray="3 1.5 1 1.5"/>
<g fill="#4c4c4c" font-family="Liberation Serif, serif">
<text x="444.5" y="24.7" font-size="9.6">L</text>
<text x="449.0" y="26.6" font-size="7" font-weight="bold" textLength="9.4">bol</text>
<text x="459.6" y="24.8" font-size="10" textLength="16.4">&lt;10</text>
<text x="476.6" y="21.6" font-size="7.4">3</text>
<text x="485.0" y="24.7" font-size="9.6">L</text>
<text x="489.4" y="26.6" font-size="7" font-weight="bold" textLength="11.6">Sun</text>
<text x="506.0" y="24.7" font-size="9.5" textLength="69.4">(Anglada 1995)</text>
</g>
<line x1="424.2" y1="39.9" x2="440" y2="39.9" stroke="#777" stroke-width="0.9" stroke-dasharray="1 1"/>
<text x="445.3" y="43" font-family="Liberation Serif, serif" fill="#111" stroke="#111" stroke-width="0.3" font-size="11.6" textLength="5.6">L</text>
<text x="449.8" y="45.5" font-family="Liberation Serif, serif" font-weight="bold" fill="#111" font-size="8.6">rad</text>
<text x="463.8" y="43" font-family="Liberation Serif, serif" fill="#111" stroke="#111" stroke-width="0.3" font-size="11.6" textLength="6.2">=</text>
<text x="476.6" y="43" font-family="Liberation Serif, serif" fill="#111" stroke="#111" stroke-width="0.3" font-size="11.6" textLength="11.8">10</text>
<text x="488.5" y="37.4" font-family="Liberation Serif, serif" font-weight="bold" fill="#111" font-size="8.0">h</text>
<text x="493.1" y="43.5" font-family="Liberation Serif, serif" font-weight="bold" fill="#111" font-size="8.6">×</text>
<text x="499.6" y="43" font-family="Liberation Serif, serif" fill="#111" stroke="#111" stroke-width="0.3" font-size="11.6" textLength="4.2">(</text>
<text x="503.6" y="43" font-family="Liberation Serif, serif" fill="#111" stroke="#111" stroke-width="0.3" font-size="11.6" textLength="5.6">L</text>
<text x="509.8" y="45.5" font-family="Liberation Serif, serif" font-weight="bold" fill="#111" font-size="8.3">bol</text>
<text x="521.8" y="43" font-family="Liberation Serif, serif" fill="#111" stroke="#111" stroke-width="0.3" font-size="11.6" textLength="4.2">)</text>
<text x="526" y="37.4" font-family="Liberation Serif, serif" font-weight="bold" fill="#111" font-size="8.0">k</text>
<text x="446.3" y="60.6" font-family="Liberation Serif, serif" fill="#111" stroke="#111" stroke-width="0.3" font-size="11.6" textLength="76">h=−2.2+/−0.1</text>
<text x="446.6" y="74.3" font-family="Liberation Serif, serif" fill="#111" stroke="#111" stroke-width="0.3" font-size="11.6" textLength="75">k=0.62+/−.04</text>
<text x="447.5" y="87.8" font-family="Liberation Serif, serif" fill="#111" stroke="#111" stroke-width="0.3" font-size="11.6" textLength="34.8">r=0.91</text>
<text transform="translate(601.2 92.5) rotate(-61)" font-family="Liberation Serif, serif" font-size="10.6" fill="#444" textLength="33">Lyman</text>
<text x="665.6" y="58.6" font-family="Liberation Serif, serif" font-size="8.8" fill="#444" textLength="41">S255:burst</text>
<text x="653.9" y="140.2" font-family="Liberation Serif, serif" font-size="8.8" fill="#444" textLength="61.8">S255:pre−burst</text>
</g>
</svg></body></html>
